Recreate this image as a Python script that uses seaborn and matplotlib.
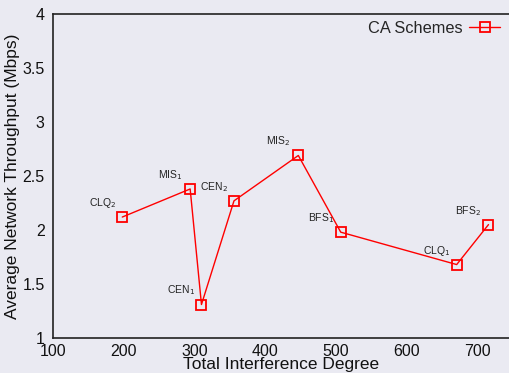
import matplotlib
matplotlib.use("Agg")
import matplotlib.pyplot as plt
import seaborn as sns
import pandas as pd

schemes = ["CLQ$_2$", "MIS$_1$", "CEN$_1$", "CEN$_2$", "MIS$_2$", "BFS$_1$", "CLQ$_1$", "BFS$_2$"]
interference = [198, 294, 310, 356, 447, 507, 671, 716]
throughput = [2.12, 2.38, 1.31, 2.27, 2.69, 1.98, 1.68, 2.05]
xticks = [100, 200, 300, 400, 500, 600, 700]
yticks = [1, 1.5, 2, 2.5, 3, 3.5, 4]
ytick_labels = ["1", "1.5", "2", "2.5", "3", "3.5", "4"]

df = pd.DataFrame({"x": interference, "y": throughput, "scheme": schemes})

sns.set_style("dark", {"axes.facecolor": "#EAEAF2", "figure.facecolor": "#EAEAF2"})
plt.rcParams["font.family"] = ["Liberation Sans", "DejaVu Sans"]

fig = plt.figure(figsize=(5.09, 3.73), dpi=100)
ax = fig.add_axes([53/509, 1 - 338/373, 1 - 53/509, (338 - 14)/373])

sns.lineplot(data=df, x="x", y="y", sort=False, ax=ax, color="#FF0000", linewidth=1.0,
             marker="s", markersize=7.5, markerfacecolor="none", markeredgecolor="#FF0000",
             markeredgewidth=1.3, label="CA Schemes")

for s, xv, yv in zip(schemes, interference, throughput):
    ax.annotate(s, (xv, yv), xytext=(-20, 14), textcoords="offset pixels",
                ha="center", va="center", fontsize=7.5, color="#222222")

ax.set_xlim(100, 745)
ax.set_ylim(1, 4)
ax.set_xticks(xticks)
ax.set_xticklabels([str(t) for t in xticks])
ax.set_yticks(yticks)
ax.set_yticklabels(ytick_labels)
ax.tick_params(axis="x", length=0, pad=4, labelsize=11.5, colors="#111111")
ax.tick_params(axis="y", length=4, width=1, pad=2, labelsize=11.5, colors="#111111", direction="out")
ax.set_xlabel("Total Interference Degree", fontsize=12.5, labelpad=-1, color="#111111")
ax.set_ylabel("Average Network Throughput (Mbps)", fontsize=12.5, labelpad=2, color="#111111")

for side in ["left", "top", "bottom"]:
    ax.spines[side].set_visible(True)
    ax.spines[side].set_color("#222222")
    ax.spines[side].set_linewidth(1.2)
ax.spines["right"].set_visible(False)
ax.grid(False)

leg = ax.legend(loc="upper right", frameon=False, markerfirst=False, fontsize=11.8,
                handlelength=1.9, handletextpad=0.4, borderaxespad=0.1,
                borderpad=0.3, bbox_to_anchor=(0.995, 1.0))

fig.savefig("out.png", dpi=100, facecolor="#EAEAF2")
